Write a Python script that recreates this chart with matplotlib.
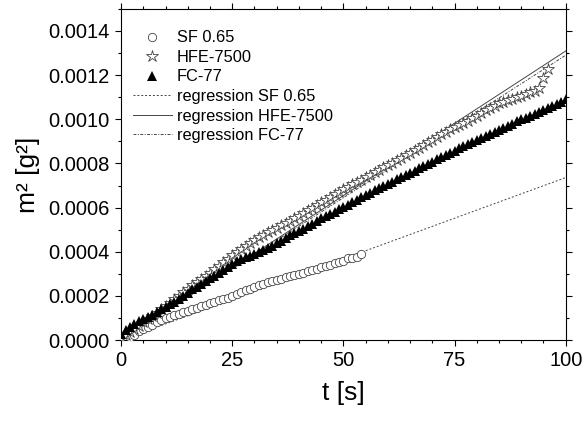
import numpy as np
import matplotlib
matplotlib.use("Agg")
from matplotlib import pyplot as plt
from matplotlib.ticker import MultipleLocator, FormatStrFormatter

plt.rcParams['font.family'] = ['Liberation Sans', 'DejaVu Sans']

# values, m^2 in units of 1e-4 g^2
t_sf = np.arange(2, 55)
m2_sf = np.array([0.15, 0.25, 0.40, 0.50, 0.60, 0.70, 0.80, 0.90, 1.00, 1.05,
                  1.12, 1.20, 1.27, 1.33, 1.40, 1.47, 1.53, 1.60, 1.67, 1.74,
                  1.80, 1.86, 1.93, 2.00, 2.10, 2.20, 2.26, 2.33, 2.40, 2.48,
                  2.56, 2.64, 2.70, 2.74, 2.78, 2.84, 2.90, 2.96, 3.00, 3.06,
                  3.12, 3.18, 3.24, 3.30, 3.36, 3.42, 3.48, 3.54, 3.60, 3.70,
                  3.74, 3.78, 3.90]) * 1e-4

t_hfe = np.arange(0, 97)
m2_hfe = np.array([0.10, 0.22, 0.38, 0.52, 0.66, 0.80, 0.95, 1.10, 1.25, 1.40,
                   1.55, 1.70, 1.86, 2.02, 2.18, 2.33, 2.48, 2.62, 2.76, 2.90,
                   3.05, 3.21, 3.37, 3.53, 3.69, 3.85, 4.00, 4.14, 4.28, 4.42,
                   4.55, 4.67, 4.78, 4.89, 5.00, 5.10, 5.20, 5.30, 5.40, 5.52,
                   5.64, 5.76, 5.88, 6.00, 6.12, 6.24, 6.36, 6.48, 6.60, 6.72,
                   6.83, 6.94, 7.05, 7.16, 7.27, 7.38, 7.49, 7.60, 7.71, 7.82,
                   7.93, 8.04, 8.15, 8.26, 8.37, 8.48, 8.60, 8.72, 8.84, 8.96,
                   9.08, 9.20, 9.32, 9.44, 9.56, 9.66, 9.74, 9.82, 9.92, 10.04,
                   10.16, 10.28, 10.40, 10.52, 10.62, 10.72, 10.80, 10.88, 10.94, 11.00,
                   11.06, 11.14, 11.22, 11.30, 11.42, 11.86, 12.27]) * 1e-4

t_fc = np.arange(0, 101)
m2_fc = np.array([0.30, 0.45, 0.60, 0.72, 0.85, 0.98, 1.05, 1.15, 1.28, 1.40,
                  1.50, 1.62, 1.75, 1.88, 2.00, 2.15, 2.30, 2.42, 2.55, 2.68,
                  2.80, 2.92, 3.05, 3.18, 3.30, 3.45, 3.58, 3.68, 3.75, 3.82,
                  3.90, 4.00, 4.10, 4.18, 4.28, 4.38, 4.50, 4.62, 4.75, 4.85,
                  4.95, 5.05, 5.15, 5.28, 5.40, 5.52, 5.62, 5.72, 5.82, 5.92,
                  6.03, 6.14, 6.25, 6.36, 6.47, 6.58, 6.68, 6.78, 6.88, 6.98,
                  7.08, 7.18, 7.28, 7.38, 7.48, 7.58, 7.68, 7.78, 7.88, 7.98,
                  8.08, 8.18, 8.28, 8.38, 8.48, 8.58, 8.68, 8.78, 8.88, 8.98,
                  9.08, 9.17, 9.26, 9.35, 9.44, 9.53, 9.62, 9.71, 9.80, 9.90,
                  10.00, 10.08, 10.16, 10.24, 10.32, 10.40, 10.50, 10.60, 10.70, 10.80,
                  10.90]) * 1e-4

# regression slopes [g^2/s]
slope_sf = 7.36e-6
slope_hfe = 1.309e-5
slope_fc = 1.29e-5
t_fit = np.array([0, 100])

fig = plt.figure(figsize=(5.85, 4.21), dpi=100)
ax = fig.add_axes([0.207, 0.192, 0.760, 0.787])

ax.plot(t_sf, m2_sf, 'o', mfc='white', mec='#444444', mew=0.6, ms=6, label='SF 0.65', zorder=3)
ax.plot(t_hfe, m2_hfe, '*', mfc='white', mec='#444444', mew=0.6, ms=9, label='HFE-7500', zorder=3)
ax.plot(t_fc, m2_fc, '^', color='black', ms=7.5, mew=0, label='FC-77', zorder=3)

ax.plot(t_fit, slope_sf * t_fit, color='#444444', lw=0.7, ls=(0, (2, 2)), label='regression SF 0.65', zorder=2)
ax.plot(t_fit, slope_hfe * t_fit, color='#444444', lw=0.7, ls='-', label='regression HFE-7500', zorder=2)
ax.plot(t_fit, slope_fc * t_fit, color='#444444', lw=0.7, ls=(0, (3, 1.5, 1, 1.5)), label='regression FC-77', zorder=2)

ax.set_xlim(0, 100)
ax.set_ylim(0, 0.0015)
ax.set_xticks([0, 25, 50, 75, 100])
ax.xaxis.set_minor_locator(MultipleLocator(5))
ax.yaxis.set_major_locator(MultipleLocator(0.0002))
ax.yaxis.set_minor_locator(MultipleLocator(0.0001))
ax.yaxis.set_major_formatter(FormatStrFormatter('%.4f'))
ax.tick_params(which='both', direction='out', top=True, right=True, labelsize=14.5, width=0.8)
ax.tick_params(which='major', length=4.5)
ax.tick_params(which='minor', length=2.5)
for s in ax.spines.values():
    s.set_linewidth(0.8)

ax.set_xlabel('t [s]', fontsize=19, labelpad=8)
ax.set_ylabel('m² [g²]', fontsize=19, labelpad=6)

ax.legend(loc='upper left', bbox_to_anchor=(0.0, 0.97), frameon=False, fontsize=11.8,
          handlelength=2.4, handletextpad=0.3, labelspacing=0.28, borderaxespad=0.3)

plt.savefig('out.png')
